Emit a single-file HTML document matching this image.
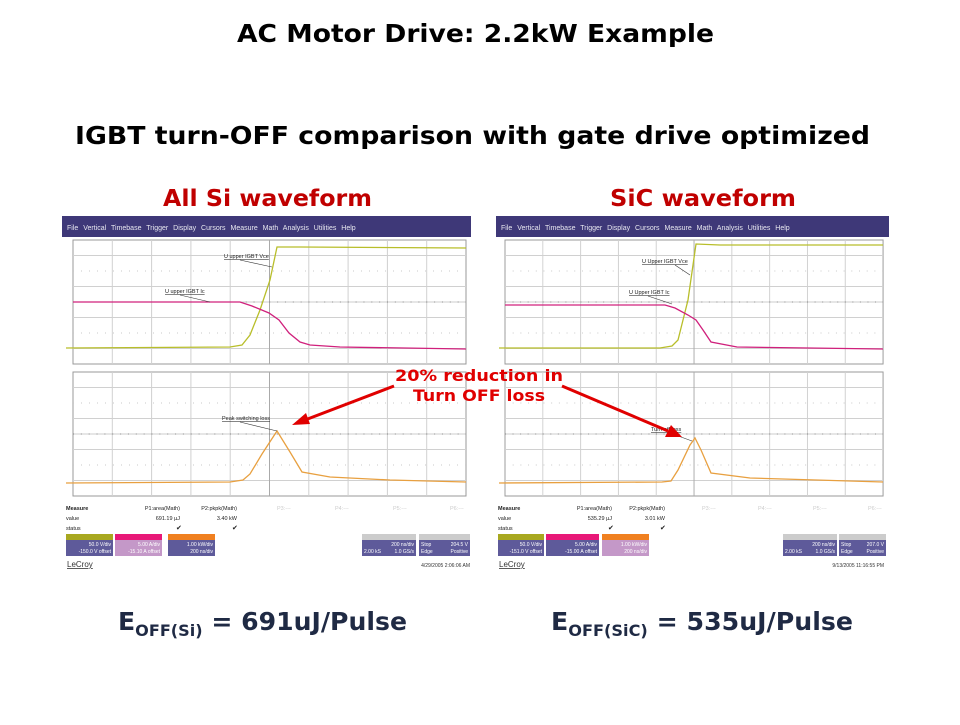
<!DOCTYPE html>
<html><head><meta charset="utf-8"><style>
body{margin:0;width:960px;height:720px;background:#fff;overflow:hidden}
svg text{font-family:"Liberation Sans",sans-serif}
svg text.v{font-family:"DejaVu Sans","Liberation Sans",sans-serif}
</style></head><body>
<svg width="960" height="720" viewBox="0 0 960 720" xmlns="http://www.w3.org/2000/svg">
<defs>
<g id="grat">
 <rect x="0" y="0" width="393" height="124" fill="#fff" stroke="#999" stroke-width="1"/>
 <g stroke="#d0d0d0" stroke-width="1">
  <line x1="39.3" y1="0" x2="39.3" y2="124"/><line x1="78.6" y1="0" x2="78.6" y2="124"/>
  <line x1="117.9" y1="0" x2="117.9" y2="124"/><line x1="157.2" y1="0" x2="157.2" y2="124"/>
  <line x1="235.8" y1="0" x2="235.8" y2="124"/><line x1="275.1" y1="0" x2="275.1" y2="124"/>
  <line x1="314.4" y1="0" x2="314.4" y2="124"/><line x1="353.7" y1="0" x2="353.7" y2="124"/>
  <line x1="0" y1="15.5" x2="393" y2="15.5"/><line x1="0" y1="46.5" x2="393" y2="46.5"/>
  <line x1="0" y1="77.5" x2="393" y2="77.5"/><line x1="0" y1="108.5" x2="393" y2="108.5"/>
 </g>
 <g stroke="#c8c8c8" stroke-width="1" stroke-dasharray="1 7">
  <line x1="0" y1="31" x2="393" y2="31"/><line x1="0" y1="93" x2="393" y2="93"/>
 </g>
 <line x1="196.5" y1="0" x2="196.5" y2="124" stroke="#aaa"/>
 <line x1="0" y1="62" x2="393" y2="62" stroke="#777" stroke-dasharray="1 6.85"/>
 <line x1="0" y1="62" x2="393" y2="62" stroke="#999" stroke-width="0.6"/>
</g>
</defs>

<text class="v" x="237" y="42" font-size="25" font-weight="bold" fill="#000" textLength="477" lengthAdjust="spacingAndGlyphs">AC Motor Drive: 2.2kW Example</text>
<text class="v" x="75" y="144" font-size="25" font-weight="bold" fill="#000" textLength="795" lengthAdjust="spacingAndGlyphs">IGBT turn-OFF comparison with gate drive optimized</text>
<text class="v" x="163" y="206" font-size="23" font-weight="bold" fill="#c00000" textLength="209" lengthAdjust="spacingAndGlyphs">All Si waveform</text>
<text class="v" x="610" y="206" font-size="23" font-weight="bold" fill="#c00000" textLength="186" lengthAdjust="spacingAndGlyphs">SiC waveform</text>

<!-- LEFT SCOPE -->
<rect x="62" y="216" width="409" height="21" fill="#3e3878"/>
<text x="67" y="230" font-size="7" fill="#e8e8f0" word-spacing="3">File  Vertical  Timebase  Trigger  Display  Cursors  Measure  Math  Analysis  Utilities  Help</text>
<use href="#grat" x="73" y="240"/>
<use href="#grat" x="73" y="372"/>
<polyline fill="none" stroke="#b8be2a" stroke-width="1.3" points="66,348 230,347 242,345 250,335 260,310 270,280 277,247 300,247 466,248"/>
<polyline fill="none" stroke="#d0207c" stroke-width="1.3" points="73,302 240,302 252,306 269,313 279,320 289,333 300,342 310,345 340,347 466,349"/>
<polyline fill="none" stroke="#e8a040" stroke-width="1.3" points="66,483 230,482 243,480 250,474 262,454 277,431 290,452 302,472 330,477 390,480 466,482"/>
<text x="224" y="258" font-size="5.5" text-decoration="underline" fill="#222">U upper IGBT Vce</text>
<line x1="240" y1="260" x2="272" y2="267" stroke="#333" stroke-width="0.6"/>
<text x="165" y="293" font-size="5.5" text-decoration="underline" fill="#222">U upper IGBT Ic</text>
<line x1="180" y1="295" x2="210" y2="302" stroke="#333" stroke-width="0.6"/>
<text x="222" y="420" font-size="5.5" text-decoration="underline" fill="#222">Peak switching loss</text>
<line x1="240" y1="422" x2="277" y2="431" stroke="#333" stroke-width="0.6"/>
<text x="66" y="510" font-size="5.5" font-weight="bold" fill="#222">Measure</text>
<text x="66" y="520" font-size="5.5" fill="#222">value</text>
<text x="66" y="530" font-size="5.5" fill="#222">status</text>
<text x="180" y="510" font-size="5.5" text-anchor="end" fill="#222">P1:area(Math)</text>
<text x="180" y="520" font-size="5.5" text-anchor="end" fill="#222">691.19 µJ</text>
<text x="176" y="530" font-size="7" fill="#222">✔</text>
<text x="237" y="510" font-size="5.5" text-anchor="end" fill="#222">P2:pkpk(Math)</text>
<text x="237" y="520" font-size="5.5" text-anchor="end" fill="#222">3.40 kW</text>
<text x="232" y="530" font-size="7" fill="#222">✔</text>
<g font-size="5.5" fill="#ccc"><text x="277" y="510">P3:---</text><text x="335" y="510">P4:---</text><text x="393" y="510">P5:---</text><text x="450" y="510">P6:---</text></g>
<rect x="66" y="534" width="47" height="22" fill="#5e5a9a"/><rect x="66" y="534" width="47" height="6" fill="#a8a820"/>
<rect x="115" y="534" width="47" height="22" fill="#c498c8"/><rect x="115" y="534" width="47" height="6" fill="#e81878"/>
<rect x="168" y="534" width="47" height="22" fill="#5e5a9a"/><rect x="168" y="534" width="47" height="6" fill="#f08020"/>
<g font-size="5" fill="#fff" text-anchor="end"><text x="111" y="546">50.0 V/div</text><text x="111" y="553">-150.0 V offset</text>
<text x="160" y="546">5.00 A/div</text><text x="160" y="553">-15.10 A offset</text>
<text x="213" y="546">1.00 kW/div</text><text x="213" y="553">200 ns/div</text></g>
<rect x="362" y="534" width="54" height="22" fill="#5e5a9a"/><rect x="362" y="534" width="54" height="6" fill="#ccc"/>
<rect x="419" y="534" width="51" height="22" fill="#5e5a9a"/><rect x="419" y="534" width="51" height="6" fill="#ccc"/>
<g font-size="5" fill="#fff"><text x="414" y="546" text-anchor="end">200 ns/div</text><text x="364" y="553">2.00 kS</text><text x="414" y="553" text-anchor="end">1.0 GS/s</text>
<text x="421" y="546">Stop</text><text x="468" y="546" text-anchor="end">204.5 V</text><text x="421" y="553">Edge</text><text x="468" y="553" text-anchor="end">Positive</text></g>
<text x="67" y="567" font-size="8" fill="#333" text-decoration="underline">LeCroy</text>
<text x="470" y="567" font-size="5" fill="#333" text-anchor="end">4/29/2005 2:06:06 AM</text>

<!-- RIGHT SCOPE -->
<rect x="496" y="216" width="393" height="21" fill="#3e3878"/>
<text x="501" y="230" font-size="7" fill="#e8e8f0" word-spacing="3">File  Vertical  Timebase  Trigger  Display  Cursors  Measure  Math  Analysis  Utilities  Help</text>
<g transform="translate(505,240) scale(0.962,1)"><use href="#grat"/></g>
<g transform="translate(505,372) scale(0.962,1)"><use href="#grat"/></g>
<polyline fill="none" stroke="#b8be2a" stroke-width="1.3" points="499,348 660,348 672,346 678,340 688,300 696,244 720,245 883,245"/>
<polyline fill="none" stroke="#d0207c" stroke-width="1.3" points="505,305 665,305 675,308 688,315 696,320 703,330 711,342 737,347 883,349"/>
<polyline fill="none" stroke="#e8a040" stroke-width="1.3" points="499,483 662,482 671,481 678,470 690,445 695,438 701,450 711,473 750,478 883,482"/>
<text x="642" y="263" font-size="5.5" text-decoration="underline" fill="#222">U Upper IGBT Vce</text>
<line x1="675" y1="265" x2="690" y2="275" stroke="#333" stroke-width="0.6"/>
<text x="629" y="294" font-size="5.5" text-decoration="underline" fill="#222">U Upper IGBT Ic</text>
<line x1="648" y1="296" x2="672" y2="304" stroke="#333" stroke-width="0.6"/>
<text x="651" y="431" font-size="5.5" text-decoration="underline" fill="#222">Turn-off loss</text>
<line x1="670" y1="433" x2="692" y2="441" stroke="#333" stroke-width="0.6"/>
<text x="498" y="510" font-size="5.5" font-weight="bold" fill="#222">Measure</text>
<text x="498" y="520" font-size="5.5" fill="#222">value</text>
<text x="498" y="530" font-size="5.5" fill="#222">status</text>
<text x="612" y="510" font-size="5.5" text-anchor="end" fill="#222">P1:area(Math)</text>
<text x="612" y="520" font-size="5.5" text-anchor="end" fill="#222">535.29 µJ</text>
<text x="608" y="530" font-size="7" fill="#222">✔</text>
<text x="665" y="510" font-size="5.5" text-anchor="end" fill="#222">P2:pkpk(Math)</text>
<text x="665" y="520" font-size="5.5" text-anchor="end" fill="#222">3.01 kW</text>
<text x="660" y="530" font-size="7" fill="#222">✔</text>
<g font-size="5.5" fill="#ccc"><text x="702" y="510">P3:---</text><text x="758" y="510">P4:---</text><text x="813" y="510">P5:---</text><text x="868" y="510">P6:---</text></g>
<rect x="498" y="534" width="46" height="22" fill="#5e5a9a"/><rect x="498" y="534" width="46" height="6" fill="#a8a820"/>
<rect x="546" y="534" width="53" height="22" fill="#5e5a9a"/><rect x="546" y="534" width="53" height="6" fill="#e81878"/>
<rect x="602" y="534" width="47" height="22" fill="#c498c8"/><rect x="602" y="534" width="47" height="6" fill="#f08020"/>
<g font-size="5" fill="#fff" text-anchor="end"><text x="542" y="546">50.0 V/div</text><text x="542" y="553">-151.0 V offset</text>
<text x="597" y="546">5.00 A/div</text><text x="597" y="553">-15.00 A offset</text>
<text x="647" y="546">1.00 kW/div</text><text x="647" y="553">200 ns/div</text></g>
<rect x="783" y="534" width="54" height="22" fill="#5e5a9a"/><rect x="783" y="534" width="54" height="6" fill="#ccc"/>
<rect x="839" y="534" width="47" height="22" fill="#5e5a9a"/><rect x="839" y="534" width="47" height="6" fill="#ccc"/>
<g font-size="5" fill="#fff"><text x="835" y="546" text-anchor="end">200 ns/div</text><text x="785" y="553">2.00 kS</text><text x="835" y="553" text-anchor="end">1.0 GS/s</text>
<text x="841" y="546">Stop</text><text x="884" y="546" text-anchor="end">207.0 V</text><text x="841" y="553">Edge</text><text x="884" y="553" text-anchor="end">Positive</text></g>
<text x="499" y="567" font-size="8" fill="#333" text-decoration="underline">LeCroy</text>
<text x="884" y="567" font-size="5" fill="#333" text-anchor="end">9/13/2005 11:16:55 PM</text>

<!-- annotation -->
<text class="v" x="395" y="381" font-size="16" font-weight="bold" fill="#e00000" textLength="168" lengthAdjust="spacingAndGlyphs">20% reduction in</text>
<text class="v" x="413" y="401" font-size="16" font-weight="bold" fill="#e00000" textLength="132" lengthAdjust="spacingAndGlyphs">Turn OFF loss</text>
<line x1="394" y1="386" x2="305" y2="420" stroke="#e00000" stroke-width="3"/>
<polygon points="292,425 306,413 310,424" fill="#e00000"/>
<line x1="562" y1="386" x2="668" y2="431" stroke="#e00000" stroke-width="3"/>
<polygon points="682,437 665,437 671,425" fill="#e00000"/>

<!-- bottom equations -->
<text class="v" x="118" y="630" font-size="25" font-weight="bold" fill="#1f2a44" textLength="289" lengthAdjust="spacingAndGlyphs">E<tspan font-size="16" dy="6">OFF(Si)</tspan><tspan dy="-6"> = 691uJ/Pulse</tspan></text>
<text class="v" x="551" y="630" font-size="25" font-weight="bold" fill="#1f2a44" textLength="302" lengthAdjust="spacingAndGlyphs">E<tspan font-size="16" dy="6">OFF(SiC)</tspan><tspan dy="-6"> = 535uJ/Pulse</tspan></text>
</svg>
</body></html>
